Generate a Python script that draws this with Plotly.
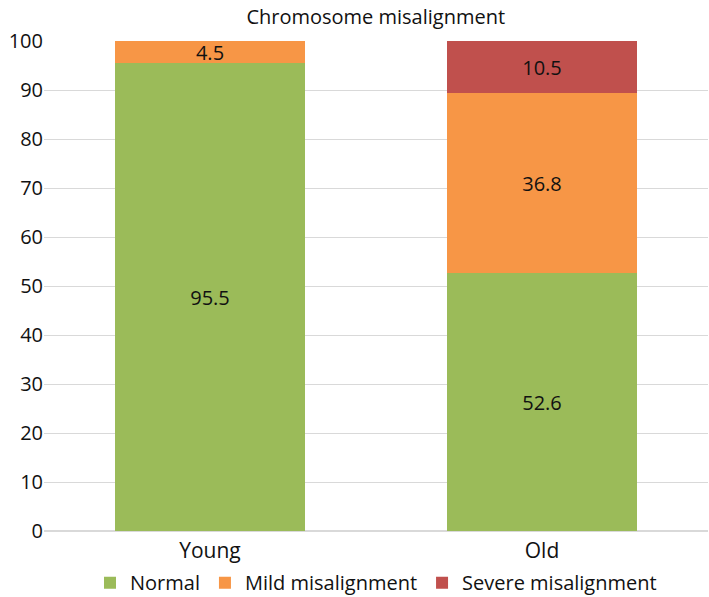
import plotly.graph_objects as go

groups = ['Young', 'Old']
normal = [95.5, 52.6]
mild = [4.5, 36.8]
severe = [0, 10.5]
severe_text = ['', '10.5']

font_name = 'Open Sans, Noto Sans, sans-serif'

fig = go.Figure()
fig.add_trace(go.Bar(x=groups, y=normal, name='Normal', marker_color='#9BBB59',
                     text=normal, textposition='inside', insidetextanchor='middle'))
fig.add_trace(go.Bar(x=groups, y=mild, name='Mild misalignment', marker_color='#F79646',
                     text=mild, textposition='inside', insidetextanchor='middle'))
fig.add_trace(go.Bar(x=groups, y=severe, name='Severe misalignment', marker_color='#C0504D',
                     text=severe_text, textposition='inside', insidetextanchor='middle'))

fig.update_traces(textfont=dict(color='#111111', size=20), marker_line_width=0)

fig.update_layout(
    width=709, height=597,
    barmode='stack', bargap=0.43,
    font=dict(family=font_name, size=20, color='#111111'),
    title=dict(text='Chromosome misalignment', x=0.53, xanchor='center',
               y=0.972, yanchor='middle', font=dict(size=20)),
    plot_bgcolor='white', paper_bgcolor='white',
    margin=dict(l=44, r=1, t=41, b=66),
    uniformtext=dict(minsize=20, mode='show'),
    legend=dict(orientation='h', x=0.5, xanchor='center', yref='container', y=0.024,
                yanchor='middle', font=dict(size=20), itemwidth=30, traceorder='normal'),
    xaxis=dict(showgrid=False, ticks='', tickfont=dict(size=21), automargin=False,
               ticklabelstandoff=5),
    yaxis=dict(range=[0, 100], dtick=10, showgrid=True, gridcolor='#D9D9D9', gridwidth=1,
               zeroline=True, zerolinecolor='#D9D9D9', tickfont=dict(size=20), ticks='',
               automargin=False),
)

# drop the page's default body margin so the figure sits at the window corner
fig.write_html('out.html', config={'displayModeBar': False},
               post_script="document.body.style.margin='0';")
